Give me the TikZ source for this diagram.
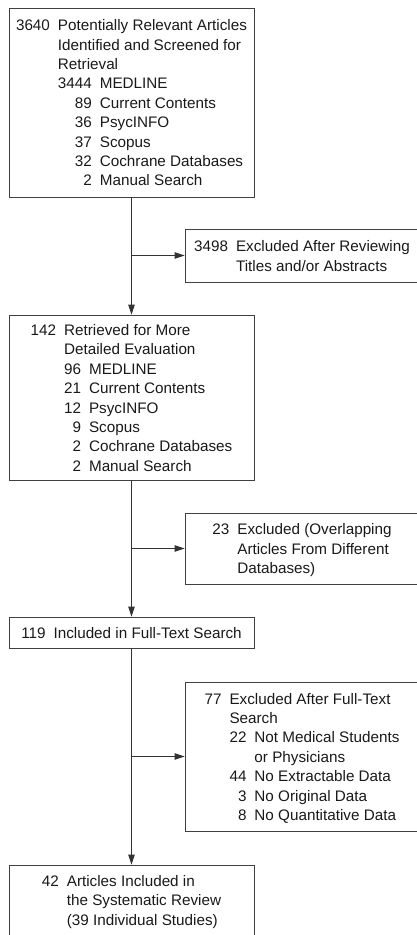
\documentclass[tikz,border=0pt]{standalone}
\usepackage{fontspec}
\setmainfont{Liberation Sans}
\usetikzlibrary{arrows.meta}
\tikzset{
  x=1pt, y=1pt,
  flowbox/.style={draw=black!75, line width=0.8pt, rectangle, inner sep=0pt},
  mainbox/.style={flowbox, minimum width=245pt},
  exbox/.style={flowbox, minimum width=234pt},
  boxtext/.style={inner sep=0pt, text=black!90, font=\fontsize{15.25}{19.4}\selectfont},
  flowarrow/.style={draw=black!80, line width=0.8pt, -{Triangle[length=10pt,width=6.5pt]}},
}
\newcommand{\numtab}{@{}r@{\hspace{8pt}}l@{}}
\begin{document}
\begin{tikzpicture}
\useasboundingbox (0,0) rectangle (417,-935);
\clip (0,0) rectangle (417,-935);
% boxes
\node[mainbox, minimum height=189pt] (b1) at (131.5,-102.5) {};
\node[exbox, minimum height=53pt] (e1) at (302,-255.5) {};
\node[mainbox, minimum height=165pt] (b2) at (131.5,-397.5) {};
\node[exbox, minimum height=71pt] (e2) at (302,-548.5) {};
\node[mainbox, minimum height=31pt] (b3) at (131.5,-632.5) {};
\node[exbox, minimum height=149pt] (e3) at (302,-756.5) {};
\node[mainbox, minimum height=72pt] (b4) at (131.5,-901) {};
% texts
\node[boxtext] (t1) at ([yshift=-2pt]b1.center) {\begin{tabular}{\numtab}
3640 & Potentially Relevant Articles\\
 & Identified and Screened for\\
 & Retrieval\\
 & \begin{tabular}[t]{\numtab}
   3444 & MEDLINE\\
   89 & Current Contents\\
   36 & PsycINFO\\
   37 & Scopus\\
   32 & Cochrane Databases\\
   2 & Manual Search
   \end{tabular}
\end{tabular}};
\node[boxtext] (te1) at ([yshift=-2pt]e1.center) {\begin{tabular}{\numtab}
3498 & Excluded After Reviewing\\
 & Titles and/or Abstracts
\end{tabular}};
\node[boxtext] (t2) at ([yshift=-2pt]b2.center) {\begin{tabular}{\numtab}
142 & Retrieved for More\\
 & Detailed Evaluation\\
 & \begin{tabular}[t]{\numtab}
   96 & MEDLINE\\
   21 & Current Contents\\
   12 & PsycINFO\\
   9 & Scopus\\
   2 & Cochrane Databases\\
   2 & Manual Search
   \end{tabular}
\end{tabular}};
\node[boxtext] (te2) at ([yshift=-2pt]e2.center) {\begin{tabular}{\numtab}
23 & Excluded (Overlapping\\
 & Articles From Different\\
 & Databases)
\end{tabular}};
\node[boxtext] (t3) at ([yshift=-2pt]b3.center) {\begin{tabular}{\numtab}
119 & Included in Full-Text Search
\end{tabular}};
\node[boxtext] (te3) at ([yshift=-2pt]e3.center) {\begin{tabular}{\numtab}
77 & Excluded After Full-Text\\
 & Search\\
 & \begin{tabular}[t]{\numtab}
   22 & Not Medical Students\\
      & or Physicians\\
   44 & No Extractable Data\\
   3 & No Original Data\\
   8 & No Quantitative Data
   \end{tabular}
\end{tabular}};
\node[boxtext] (t4) at ([yshift=-1pt]b4.center) {\begin{tabular}{\numtab}
42 & Articles Included in\\
 & the Systematic Review\\
 & (39 Individual Studies)
\end{tabular}};
% connectors
\draw[flowarrow] (b1.south) -- (b2.north);
\draw[flowarrow] (b1.south |- e1.west) -- (e1.west);
\draw[flowarrow] (b2.south) -- (b3.north);
\draw[flowarrow] (b2.south |- e2.west) -- (e2.west);
\draw[flowarrow] (b3.south) -- (b4.north);
\draw[flowarrow] (b3.south |- e3.west) -- (e3.west);
\end{tikzpicture}
\end{document}
